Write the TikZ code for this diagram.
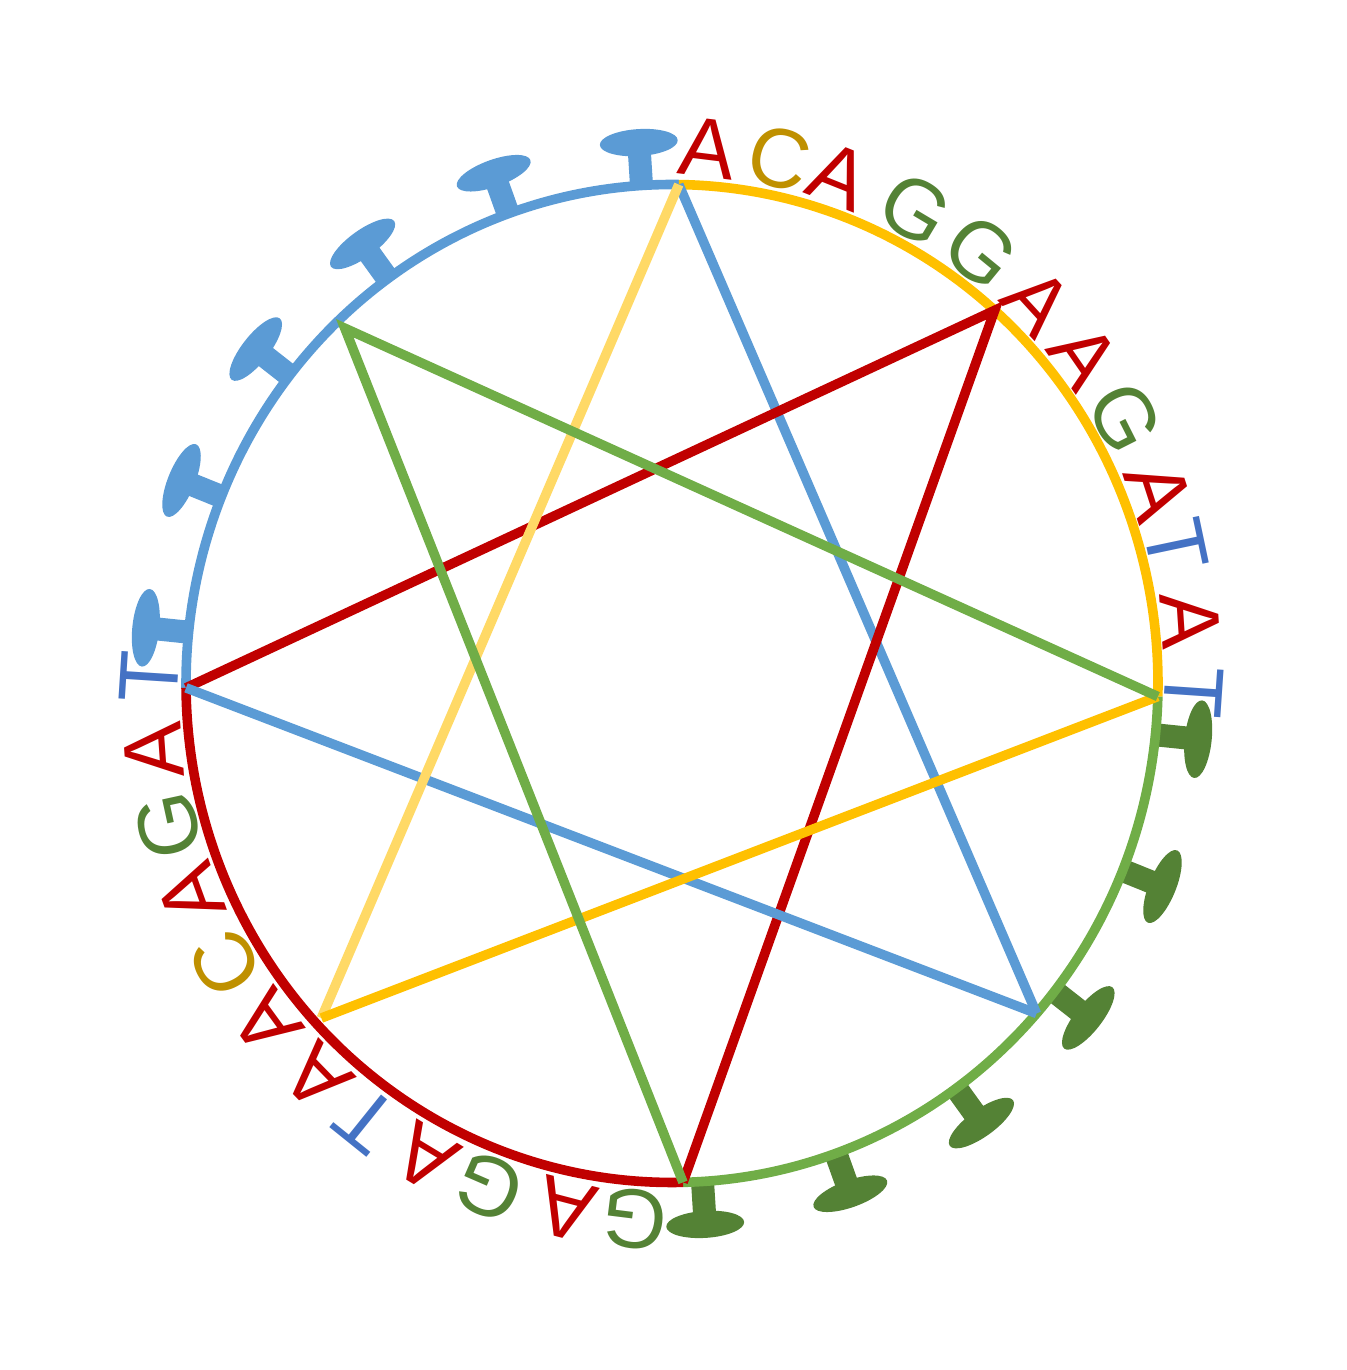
\documentclass[tikz,border=0pt]{standalone}
\usepackage{fontspec}
\setmainfont{Liberation Sans}
\definecolor{cblue}{HTML}{5B9BD5}
\definecolor{cyel}{HTML}{FFC000}
\definecolor{cyell}{HTML}{FFD966}
\definecolor{cgreen}{HTML}{70AD47}
\definecolor{cdgreen}{HTML}{548235}
\definecolor{cred}{HTML}{C00000}
\definecolor{cgold}{HTML}{BF9000}
\definecolor{ctee}{HTML}{4472C4}
\tikzset{
  lolli/.pic={\fill (-11.5,-4) rectangle (11.5,32); \fill (0,43) ellipse[x radius=39,y radius=13.5];},
  base/.style={inner sep=0pt, font=\fontsize{42}{50}\selectfont},
  edge/.style={line width=4.8pt, line join=miter}
}
\begin{document}
\begin{tikzpicture}[x=0.5pt,y=0.5pt]
\useasboundingbox (0,0) rectangle (1347,1370);
\def\cx{672}\def\cy{686.5}\def\rx{486}\def\ry{499}
\foreach \n/\a/\f in {1/89.2/1,2/48.4/1,3/-1.5/1,4/-41.4/1,5/-88.7/1,6/-137.1/0.985,7/180.5/1,8/133.4/0.98}
  \coordinate (P\n) at ({\cx+\f*\rx*cos(\a)},{\cy+\f*\ry*sin(\a)});
% lollipops
\foreach \a [count=\i] in {93.6,109.7,125.8,141.9,158.0,174.1}
  \pic[cblue, rotate=\a-90] (bl\i) at ({\cx+\rx*cos(\a)},{\cy+\ry*sin(\a)}) {lolli};
\foreach \a [count=\i] in {-86.4,-70.3,-54.2,-38.1,-22.0,-5.9}
  \pic[cdgreen, rotate=\a-90] (gl\i) at ({\cx+\rx*cos(\a)},{\cy+\ry*sin(\a)}) {lolli};
% arcs
\draw[edge, cblue] (P7) arc[start angle=180.5, end angle=89.2, x radius=\rx, y radius=\ry];
\draw[edge, cyel] (P1) arc[start angle=89.2, end angle=-1.5, x radius=\rx, y radius=\ry];
\draw[edge, cgreen] (P3) arc[start angle=-1.5, end angle=-88.7, x radius=\rx, y radius=\ry];
\draw[edge, cred] (P5) arc[start angle=-88.7, end angle=-179.5, x radius=\rx, y radius=\ry];
% star
\draw[edge, cblue] (P1) -- (P4);
\draw[edge, cred] (P7) -- (P2) -- (P5);
\draw[edge, cblue] (P4) -- (P7);
\draw[edge, cyell] (P1) -- (P6);
\draw[edge, cyel] (P6) -- (P3);
\draw[edge, cgreen] (P3) -- (P8) -- (P5);
% letters top-right
\foreach \l/\c/\ang [count=\i from 0] in {A/cred/86.0,C/cgold/78.1,A/cred/71.2,G/cdgreen/62.2,G/cdgreen/53.6,A/cred/45.4,A/cred/37.7,G/cdgreen/29.7,A/cred/21.0,T/ctee/14.9,A/cred/6.8,T/ctee/-0.9}{
  \node[base, text=\c, rotate=\ang-93] (tl\i) at ({671.5+522*cos(\ang)},{686+537*sin(\ang)}) {\l};
}
% letters bottom-left
\foreach \l/\c/\ang [count=\i from 0] in {T/ctee/179.3,A/cred/187.1,G/cdgreen/195.3,A/cred/203.0,C/cgold/211.4,A/cred/219.1,A/cred/227.2,T/ctee/234.2,A/cred/241.9,G/cdgreen/249.5,A/cred/258.3,G/cdgreen/265.9}{
  \node[base, text=\c, rotate=\ang-93] (ll\i) at ({671.5+522*cos(\ang)},{686+537*sin(\ang)}) {\l};
}
\end{tikzpicture}
\end{document}
